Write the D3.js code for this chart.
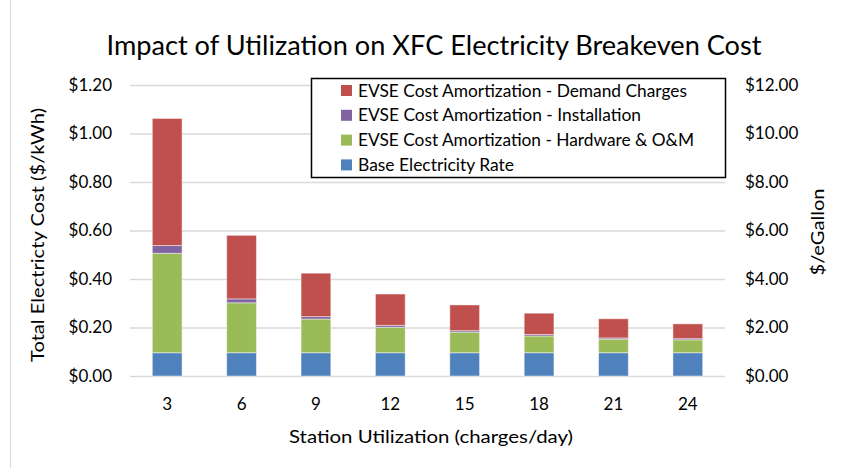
<!DOCTYPE html>
<html>
<head>
<meta charset="utf-8">
<script src="https://cdn.jsdelivr.net/npm/d3@7"></script>
<style>
  body { margin: 0; background: #fff; }
  svg { display: block; font-family: Lato, "Open Sans", sans-serif; }
</style>
</head>
<body>
<svg id="chart" width="844" height="468"></svg>
<script>
// Station utilization (charges/day)
const utilization = ["3", "6", "9", "12", "15", "18", "21", "24"];

// Cost components, $/kWh
const baseRate      = [0.096, 0.096, 0.096, 0.096, 0.096, 0.096, 0.096, 0.096];
const hardwareOM    = [0.410, 0.206, 0.139, 0.105, 0.085, 0.069, 0.056, 0.053];
const installation  = [0.032, 0.016, 0.010, 0.008, 0.006, 0.006, 0.005, 0.005];
const demandCharges = [0.524, 0.262, 0.179, 0.129, 0.106, 0.088, 0.079, 0.061];

const seriesKeys   = ["base", "hardware", "install", "demand"];
const seriesNames  = ["Base Electricity Rate",
                      "EVSE Cost Amortization - Hardware & O&M",
                      "EVSE Cost Amortization - Installation",
                      "EVSE Cost Amortization - Demand Charges"];
const seriesColors = ["#4F81BD", "#9BBB59", "#8064A2", "#C0504D"];

const leftTicks  = [0, 0.2, 0.4, 0.6, 0.8, 1.0, 1.2];
const rightTicks = [0, 2, 4, 6, 8, 10, 12];

const title       = "Impact of Utilization on XFC Electricity Breakeven Cost";
const xTitle      = "Station Utilization (charges/day)";
const yTitle      = "Total Electricty Cost ($/kWh)";
const yRightTitle = "$/eGallon";

const rows = utilization.map((u, i) => ({
  u, base: baseRate[i], hardware: hardwareOM[i], install: installation[i], demand: demandCharges[i]
}));

const svg = d3.select("#chart");
const plot = { left: 130, right: 725, top: 85, bottom: 376 };

const x = d3.scaleBand().domain(utilization)
  .range([plot.left, plot.right]).paddingInner(0.6).paddingOuter(0.3);
const y = d3.scaleLinear().domain([0, 1.2]).range([plot.bottom, plot.top]);
const yRight = d3.scaleLinear().domain([0, 12]).range([plot.bottom, plot.top]);

// left frame edge
svg.append("line").attr("x1", 10.5).attr("x2", 10.5).attr("y1", 0).attr("y2", 468)
  .attr("stroke", "#d9d9d9").attr("stroke-width", 1);

// gridlines
svg.append("g")
  .attr("transform", `translate(${plot.left},0)`)
  .call(d3.axisLeft(y).tickValues(leftTicks).tickSize(-(plot.right - plot.left)).tickFormat(""))
  .call(g => g.select(".domain").remove())
  .call(g => g.selectAll("line").attr("stroke", "#d9d9d9").attr("stroke-width", 1.5));

// left axis labels
svg.append("g")
  .attr("transform", `translate(112,0)`)
  .call(d3.axisLeft(y).tickValues(leftTicks).tickSize(0).tickPadding(0)
    .tickFormat(d => "$" + d.toFixed(2)))
  .call(g => g.select(".domain").remove())
  .call(g => g.selectAll("text").attr("font-size", 17).attr("fill", "#000")
    .attr("font-family", "Lato, sans-serif"));

// right axis labels
svg.append("g")
  .attr("transform", `translate(745,0)`)
  .call(d3.axisRight(yRight).tickValues(rightTicks).tickSize(0).tickPadding(0)
    .tickFormat(d => "$" + d.toFixed(2)))
  .call(g => g.select(".domain").remove())
  .call(g => g.selectAll("text").attr("font-size", 17).attr("fill", "#000")
    .attr("font-family", "Lato, sans-serif"));

// stacked bars
const stacked = d3.stack().keys(seriesKeys)(rows);
svg.append("g").selectAll("g")
  .data(stacked).join("g")
  .attr("fill", (d, i) => seriesColors[i])
  .selectAll("rect")
  .data(d => d).join("rect")
  .attr("x", d => x(d.data.u))
  .attr("width", x.bandwidth())
  .attr("y", d => y(d[1]))
  .attr("height", d => y(d[0]) - y(d[1]))
  .attr("stroke", "#ffffff").attr("stroke-opacity", 0.45).attr("stroke-width", 1);

// bottom axis labels
svg.append("g")
  .attr("transform", `translate(0,${plot.bottom})`)
  .call(d3.axisBottom(x).tickSize(0).tickPadding(22))
  .call(g => g.select(".domain").remove())
  .call(g => g.selectAll("text").attr("font-size", 17).attr("fill", "#000")
    .attr("font-family", "Lato, sans-serif"));

// titles
svg.append("text").attr("x", 434).attr("y", 55).attr("text-anchor", "middle")
  .attr("font-size", 27).attr("textLength", 655).attr("lengthAdjust", "spacingAndGlyphs")
  .text(title);

svg.append("text").attr("x", 431).attr("y", 443).attr("text-anchor", "middle")
  .attr("font-size", 18).attr("textLength", 284).attr("lengthAdjust", "spacingAndGlyphs")
  .text(xTitle);

svg.append("text").attr("transform", "translate(44,235) rotate(-90)").attr("text-anchor", "middle")
  .attr("font-size", 18).attr("textLength", 254).attr("lengthAdjust", "spacingAndGlyphs")
  .text(yTitle);

svg.append("text").attr("transform", "translate(824,232) rotate(-90)").attr("text-anchor", "middle")
  .attr("font-size", 18).attr("textLength", 87).attr("lengthAdjust", "spacingAndGlyphs")
  .text(yRightTitle);

// legend
const legend = svg.append("g");
legend.append("rect").attr("x", 311.5).attr("y", 78.5).attr("width", 414).attr("height", 99)
  .attr("fill", "#fff").attr("stroke", "#000").attr("stroke-width", 1.5);

const legendOrder = [3, 2, 1, 0];
const legendWidths = [329, 283, 336, 156];
const items = legend.selectAll("g.item").data(legendOrder).join("g")
  .attr("class", "item")
  .attr("transform", (d, i) => `translate(341,${90.5 + i * 24.8})`);
items.append("rect").attr("x", 0).attr("y", -5.5).attr("width", 11).attr("height", 11)
  .attr("fill", d => seriesColors[d]);
items.append("text").attr("x", 17).attr("y", 6).attr("font-size", 17)
  .attr("textLength", (d, i) => legendWidths[i]).attr("lengthAdjust", "spacingAndGlyphs")
  .text(d => seriesNames[d]);
</script>
</body>
</html>
